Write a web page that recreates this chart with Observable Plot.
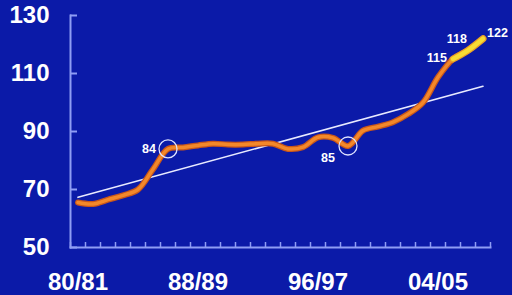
<!DOCTYPE html>
<html><head><meta charset="utf-8">
<script src="https://cdn.jsdelivr.net/npm/d3@7"></script>
<script src="https://cdn.jsdelivr.net/npm/@observablehq/plot@0.6"></script>
<style>
html,body{margin:0;padding:0;background:#0b1aa8;}
#chart{width:512px;height:295px;overflow:hidden;}
</style></head><body><div id="chart"></div>
<script>
const seasons = ["80/81","81/82","82/83","83/84","84/85","85/86","86/87","87/88","88/89","89/90","90/91","91/92","92/93","93/94","94/95","95/96","96/97","97/98","98/99","99/00","00/01","01/02","02/03","03/04","04/05","05/06","06/07","07/08"];
const values = [65.5,65,66.5,68,70,77,84,84.5,85.2,85.8,85.5,85.5,85.8,85.8,84,84.6,88,87.8,85,90.3,91.7,93.2,96,100,108.7,115,118,122];
const trendSeasons = ["80/81","07/08"];
const trendValues = [67.3,105.6];
const labelledSeasons = ["80/81","88/89","96/97","04/05"];
const yTicks = [50,70,90,110,130];
const circledSeasons = ["86/87","98/99"];
const highlightedSeasons = ["05/06","06/07","07/08"];
const annotations = [
  {season:"86/87", anchor:"end", dx:-12, dy:0},
  {season:"98/99", anchor:"middle", dx:-20, dy:12},
  {season:"05/06", anchor:"end", dx:-6, dy:-1},
  {season:"06/07", anchor:"end", dx:-1, dy:-11},
  {season:"07/08", anchor:"start", dx:4, dy:-6}
];

const idx = s => seasons.indexOf(s);
const series = seasons.map((s,i)=>({i, season:s, v:values[i]}));
const highlight = series.filter(d=>highlightedSeasons.includes(d.season));
const circled = series.filter(d=>circledSeasons.includes(d.season));
const trend = trendSeasons.map((s,k)=>({i:idx(s), v:trendValues[k]}));
const boundaries = d3.range(seasons.length + 1).map(k=>k-0.5);
const ann = annotations.map(a=>({...a, i:idx(a.season), v:values[idx(a.season)]}));

const axisColor = "#8f9df4";
const font = "'Liberation Sans', Arial, sans-serif";

const chart = Plot.plot({
  width:512, height:295,
  marginLeft:70, marginRight:22, marginTop:15, marginBottom:48,
  x:{domain:[-0.5, seasons.length-0.5], axis:null},
  y:{domain:[50,130], axis:null},
  style:{background:"#0b1aa8", color:"white", fontFamily:font},
  marks:[
    Plot.frame({anchor:"left", stroke:axisColor, strokeWidth:2}),
    Plot.frame({anchor:"bottom", stroke:axisColor, strokeWidth:2}),
    Plot.tickY(yTicks, {y:d=>d, stroke:axisColor, strokeWidth:2, insetRight:413}),
    Plot.tickX(boundaries, {x:d=>d, stroke:axisColor, strokeWidth:1.5, insetTop:227}),
    Plot.axisY(yTicks, {label:null, tickSize:0, tickPadding:21, fontSize:24, fontWeight:"bold", fill:"white"}),
    Plot.axisX(labelledSeasons.map(idx), {label:null, tickSize:0, tickPadding:25, fontSize:24, fontWeight:"bold", fill:"white", tickFormat:i=>seasons[i]}),
    Plot.line(trend, {x:"i", y:"v", stroke:"#e8eaff", strokeWidth:1.6}),
    Plot.line(series, {x:"i", y:"v", stroke:"#c9571a", strokeWidth:6, curve:"catmull-rom", strokeLinecap:"round"}),
    Plot.line(series, {x:"i", y:"v", stroke:"#f3882a", strokeWidth:3.5, curve:"catmull-rom", strokeLinecap:"round"}),
    Plot.line(highlight, {x:"i", y:"v", stroke:"#e8a028", strokeWidth:7, curve:"catmull-rom", strokeLinecap:"round"}),
    Plot.line(highlight, {x:"i", y:"v", stroke:"#f7dc34", strokeWidth:4.5, curve:"catmull-rom", strokeLinecap:"round"}),
    Plot.dot(circled, {x:"i", y:"v", r:9, stroke:"#dfe3ff", strokeWidth:1.3, fill:"none"}),
    ...ann.map(a=>Plot.text([a], {x:"i", y:"v", text:d=>String(Math.round(d.v)), textAnchor:a.anchor, dx:a.dx, dy:a.dy, fill:"white", fontSize:12.5, fontWeight:"bold"}))
  ]
});
document.getElementById("chart").appendChild(chart);
</script>
</body></html>
